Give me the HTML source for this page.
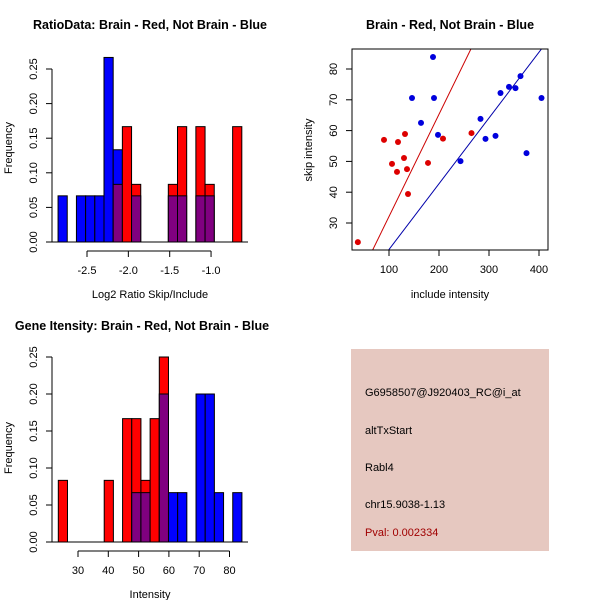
<!DOCTYPE html>
<html><head><meta charset="utf-8"><style>
body{margin:0;background:#fff}
svg{display:block;font-family:"Liberation Sans",sans-serif}
</style></head><body>
<svg id="c" width="600" height="600" viewBox="0 0 600 600">
<rect width="600" height="600" fill="#fff"/>
<text x="150" y="29" text-anchor="middle" font-weight="bold" font-size="12.5">RatioData: Brain - Red, Not Brain - Blue</text>
<text x="450" y="29" text-anchor="middle" font-weight="bold" font-size="12.5">Brain - Red, Not Brain - Blue</text>
<text x="142" y="330" text-anchor="middle" font-weight="bold" font-size="12.5">Gene Itensity: Brain - Red, Not Brain - Blue</text>
<text x="150" y="298" text-anchor="middle" font-size="11">Log2 Ratio Skip/Include</text>
<text x="12" y="148" text-anchor="middle" font-size="11" transform="rotate(-90 12 148)">Frequency</text>
<text x="450" y="298" text-anchor="middle" font-size="11">include intensity</text>
<text x="312" y="150" text-anchor="middle" font-size="11" transform="rotate(-90 312 150)">skip intensity</text>
<text x="150" y="598" text-anchor="middle" font-size="11">Intensity</text>
<text x="12" y="448" text-anchor="middle" font-size="11" transform="rotate(-90 12 448)">Frequency</text>
<g>
<rect x="351" y="349" width="198" height="202" fill="#e6c8c0"/>
<text x="365" y="396" font-size="11">G6958507@J920403_RC@i_at</text>
<text x="365" y="434" font-size="11">altTxStart</text>
<text x="365" y="471" font-size="11">Rabl4</text>
<text x="365" y="508" font-size="11">chr15.9038-1.13</text>
<text x="365" y="536" font-size="11" fill="#a00000">Pval: 0.002334</text>
</g>
</svg>
<script>
// Ratio histogram data
const ratioBinStart = -2.85, ratioBinWidth = 0.1111;
const ratioBlue = [0.0667,0,0.0667,0.0667,0.0667,0.2667,0.1333,0,0.0667,0,0,0,0.0667,0.0667,0,0.0667,0.0667,0,0,0];
const ratioRed  = [0,0,0,0,0,0,0.0833,0.1667,0.0833,0,0,0,0.0833,0.1667,0,0.1667,0.0833,0,0,0.1667];
const ratioXTicks = [-2.5,-2.0,-1.5,-1.0];
const ratioXLabels = ["-2.5","-2.0","-1.5","-1.0"];
const freqTicks = [0,0.05,0.10,0.15,0.20,0.25];
const freqLabels = ["0.00","0.05","0.10","0.15","0.20","0.25"];
// Intensity histogram data
const intBinStart = 23.5, intBinWidth = 3.03;
const intBlue = [0,0,0,0,0,0,0,0,0.0667,0.0667,0,0.2,0.0667,0.0667,0,0.2,0.2,0.0667,0,0.0667];
const intRed  = [0.0833,0,0,0,0,0.0833,0,0.1667,0.1667,0.0833,0.1667,0.25,0,0,0,0,0,0,0,0];
const intXTicks = [30,40,50,60,70,80];
// Scatter data
const redX = [37.7,90,106,118,116,132,130,136,138,178,208,265];
const redY = [23.8,57,49.2,56.3,46.6,58.9,51.1,47.5,39.4,49.5,57.4,59.2];
const blueX = [188,146,190,164,198,243,283,293,313,323,340,353,363,375,405];
const blueY = [83.9,70.6,70.6,62.5,58.6,50.1,63.8,57.3,58.3,72.2,74.2,73.8,77.7,52.7,70.6];
const fitSlope = [0.332,0.2135];
const fitIntercept = [-1.1,0.05];
const scatXTicks = [100,200,300,400];
const scatYTicks = [30,40,50,60,70,80];

const NS="http://www.w3.org/2000/svg", svg=document.getElementById('c');
function mk(tag,attrs,parent){const e=document.createElementNS(NS,tag);for(const k in attrs)e.setAttribute(k,attrs[k]);(parent||svg).appendChild(e);return e;}

function hist(cfg){
  const g=mk('g',{});
  
  
  const xs=v=>cfg.x0px+(v-cfg.x0)*cfg.kx, ys=v=>cfg.base-v*cfg.ky;
  const n=Math.max(cfg.blue.length,cfg.red.length);
  for(let i=0;i<n;i++){
    const b=cfg.blue[i]||0,r=cfg.red[i]||0;
    const xl=xs(cfg.bs+i*cfg.bw), xr=xs(cfg.bs+(i+1)*cfg.bw);
    const mx=Math.max(b,r),mn=Math.min(b,r);
    if(mx>0){
      const top=mk('rect',{x:xl,y:ys(mx),width:xr-xl,height:ys(0)-ys(mx),fill:b>r?'#0000ff':'#ff0000',stroke:'#000','stroke-width':1},g);
      
      
    }
    if(mn>0){
      const p=mk('rect',{x:xl,y:ys(mn),width:xr-xl,height:ys(0)-ys(mn),fill:'#800080',stroke:'#000','stroke-width':1},g);
      
      
    }
  }
  mk('line',{x1:cfg.ax,x2:cfg.ax+196,y1:cfg.base,y2:cfg.base,stroke:'#000'},g);
  mk('line',{x1:cfg.ax,x2:cfg.ax,y1:ys(0),y2:ys(0.25),stroke:'#000'},g);
  freqTicks.forEach((t,i)=>{
    mk('line',{x1:cfg.ax-6,x2:cfg.ax,y1:ys(t),y2:ys(t),stroke:'#000'},g);
    const lx=cfg.ax-15;
    const tx=mk('text',{x:lx,y:ys(t),'font-size':11,'text-anchor':'middle',transform:`rotate(-90 ${lx} ${ys(t)})`},g);
    tx.textContent=freqLabels[i];
    
    
  });
  const ay=cfg.base+9;
  mk('line',{x1:xs(cfg.ticks[0]),x2:xs(cfg.ticks[cfg.ticks.length-1]),y1:ay,y2:ay,stroke:'#000'},g);
  cfg.ticks.forEach((t,i)=>{
    mk('line',{x1:xs(t),x2:xs(t),y1:ay,y2:ay+6,stroke:'#000'},g);
    const tx=mk('text',{x:xs(t),y:ay+23,'font-size':11,'text-anchor':'middle'},g);
    tx.textContent=cfg.labels[i];
    
    
  });
}
hist({name:'ratio-histogram',blue:ratioBlue,red:ratioRed,bs:ratioBinStart,bw:ratioBinWidth,x0:-2.5,x0px:87,kx:82.7,base:242,ky:692,ax:52,ticks:ratioXTicks,labels:ratioXLabels});
hist({name:'intensity-histogram',blue:intBlue,red:intRed,bs:intBinStart,bw:intBinWidth,x0:30,x0px:78,kx:3.03,base:542,ky:740,ax:52,ticks:intXTicks,labels:intXTicks.map(String)});

(function(){
  const g=mk('g',{});
  
  
  const L=352,R=548,T=49,B=250;
  const xs=v=>389+(v-100)*0.5, ys=v=>69+(80-v)*3.08;
  const cp=mk('clipPath',{id:'sc'},g); mk('rect',{x:L,y:T,width:R-L,height:B-T},cp);
  const cols=['#cc0000','#0000aa'];
  fitSlope.forEach((s,i)=>{
    const x1=0,x2=500;
    const ln=mk('line',{x1:xs(x1),y1:ys(fitIntercept[i]+s*x1),x2:xs(x2),y2:ys(fitIntercept[i]+s*x2),stroke:cols[i],'stroke-width':1,'clip-path':'url(#sc)'},g);
    
    
  });
  redX.forEach((x,i)=>{
    const c=mk('circle',{cx:xs(x),cy:ys(redY[i]),r:3,fill:'#dd0000'},g);
    
    
  });
  blueX.forEach((x,i)=>{
    const c=mk('circle',{cx:xs(x),cy:ys(blueY[i]),r:3,fill:'#0000dd'},g);
    
    
  });
  mk('rect',{x:L,y:T,width:R-L,height:B-T,fill:'none',stroke:'#000'},g);
  scatXTicks.forEach(t=>{
    mk('line',{x1:xs(t),x2:xs(t),y1:B,y2:B+6,stroke:'#000'},g);
    const tx=mk('text',{x:xs(t),y:B+23,'font-size':11,'text-anchor':'middle'},g);
    tx.textContent=String(t);
    
    
  });
  scatYTicks.forEach(t=>{
    mk('line',{x1:L-6,x2:L,y1:ys(t),y2:ys(t),stroke:'#000'},g);
    const x=L-15;
    const tx=mk('text',{x:x,y:ys(t),'font-size':11,'text-anchor':'middle',transform:`rotate(-90 ${x} ${ys(t)})`},g);
    tx.textContent=String(t);
    
    
  });
})();
</script>
</body></html>
